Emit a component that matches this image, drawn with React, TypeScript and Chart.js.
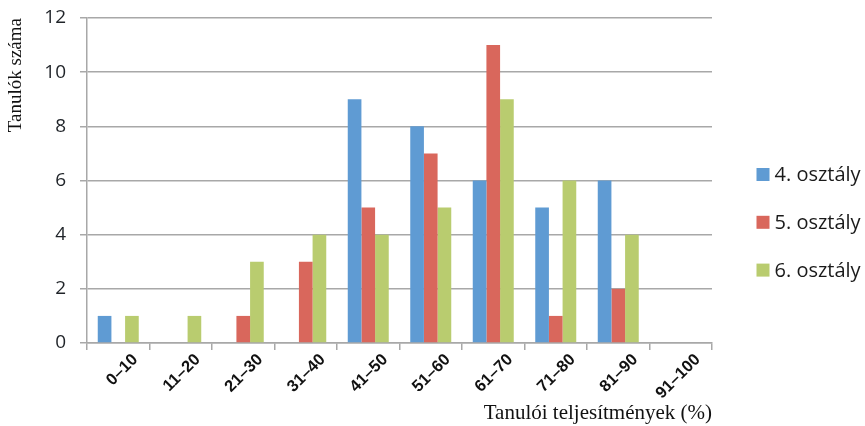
import React, { useEffect, useRef } from "react";
import { Chart, registerables } from "chart.js";

Chart.register(...registerables);

const categories = ["0–10", "11–20", "21–30", "31–40", "41–50", "51–60", "61–70", "71–80", "81–90", "91–100"];
const seriesNames = ["4. osztály", "5. osztály", "6. osztály"];
const grade4 = [1, 0, 0, 0, 9, 8, 6, 5, 6, 0];
const grade5 = [0, 0, 1, 3, 5, 7, 11, 1, 2, 0];
const grade6 = [1, 1, 3, 4, 4, 5, 9, 6, 4, 0];
const colors = ["#5f9bd3", "#d9675c", "#b9cc6f"];
const yTitle = "Tanulók száma";
const xTitle = "Tanulói teljesítmények (%)";

const legendPlugin = {
  id: "sideLegend",
  afterDraw(chart: any) {
    const { ctx, chartArea } = chart;
    ctx.save();
    ctx.font = "20px 'Open Sans'";
    ctx.textBaseline = "middle";
    ctx.textAlign = "left";
    chart.data.datasets.forEach((ds: any, i: number) => {
      const cy = chartArea.top + 156.5 + i * 47.8;
      const bx = chartArea.right + 44.5;
      ctx.fillStyle = ds.backgroundColor;
      ctx.fillRect(bx, cy - 6.5, 13, 13);
      ctx.fillStyle = "#1a1a1a";
      ctx.fillText(ds.label, bx + 18, cy + 1);
    });
    ctx.restore();
  },
};

export default function App() {
  const ref = useRef<HTMLCanvasElement | null>(null);
  useEffect(() => {
    if (!ref.current) return;
    const gridColor = "#a8a8a8";
    const chart = new Chart(ref.current, {
      type: "bar",
      data: {
        labels: categories,
        datasets: [grade4, grade5, grade6].map((d, i) => ({
          label: seriesNames[i],
          data: d,
          backgroundColor: colors[i],
          borderWidth: 0,
          categoryPercentage: 0.656,
          barPercentage: 1,
        })),
      },
      options: {
        animation: false,
        responsive: false,
        maintainAspectRatio: false,
        layout: { padding: { top: 18, right: 153, left: 0, bottom: 0 } },
        plugins: {
          legend: { display: false },
          tooltip: { enabled: false },
        },
        scales: {
          x: {
            afterFit(scale: any) {
              scale.height = 83;
              scale.paddingLeft = 0;
              scale.paddingRight = 0;
              scale.paddingTop = 0;
              scale.paddingBottom = 0;
            },
            grid: {
              drawOnChartArea: false,
              drawTicks: true,
              tickLength: 7,
              color: gridColor,
              lineWidth: 1.5,
              offset: true,
            },
            border: { display: true, color: gridColor, width: 1.5 },
            ticks: {
              minRotation: 45,
              maxRotation: 45,
              autoSkip: false,
              labelOffset: 17,
              padding: 0,
              color: "#111",
              font: { family: "'Liberation Sans'", size: 16.5, weight: "bold" },
            },
            title: {
              display: true,
              text: xTitle,
              align: "end",
              color: "#111",
              font: { family: "'Liberation Serif'", size: 21 },
              padding: { top: 0, bottom: 0 },
            },
          },
          y: {
            min: 0,
            max: 12,
            afterFit(scale: any) {
              scale.width = 87;
              scale.paddingTop = 0;
              scale.paddingBottom = 0;
              scale.paddingLeft = 0;
              scale.paddingRight = 0;
            },
            grid: {
              color: gridColor,
              lineWidth: 1.5,
              drawTicks: true,
              tickLength: 7,
            },
            border: { display: true, color: gridColor, width: 1.5 },
            ticks: {
              stepSize: 2,
              padding: 14,
              color: "#1f2328",
              font: { family: "'Open Sans'", size: 19 },
            },
            title: {
              display: true,
              text: yTitle,
              align: "end",
              color: "#111",
              font: { family: "'Liberation Serif'", size: 19 },
              padding: { top: 5, bottom: 0 },
            },
          },
        },
      },
      plugins: [legendPlugin],
    } as any);
    return () => chart.destroy();
  }, []);
  return (
    <div style={{ position: "fixed", left: 0, top: 0, width: 865, height: 426, background: "#fff" }}>
      <canvas ref={ref} width={865} height={426} style={{ width: 865, height: 426 }} />
    </div>
  );
}
